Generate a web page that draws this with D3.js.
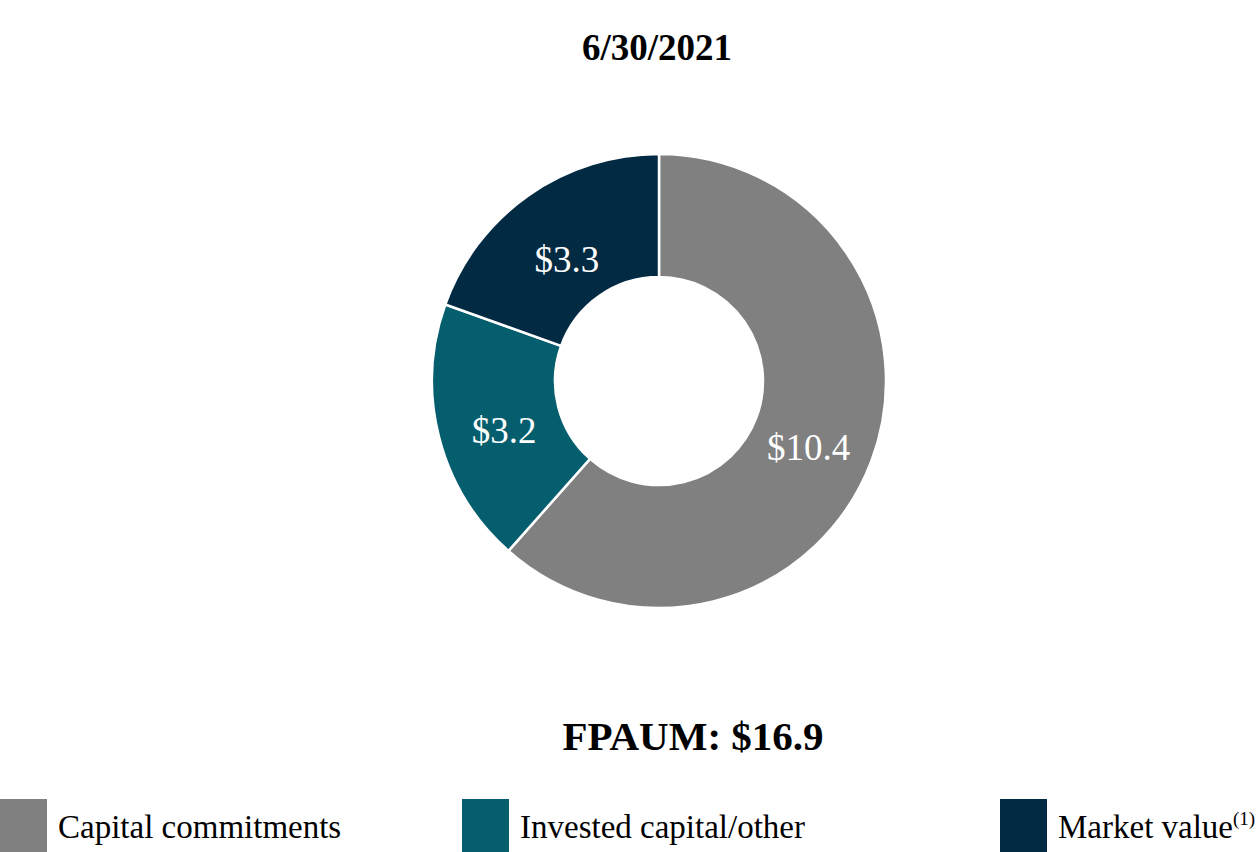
<!DOCTYPE html>
<html><head><meta charset="utf-8">
<script src="https://cdn.jsdelivr.net/npm/d3@7"></script>
<style>body{margin:0;background:#fff;}svg{display:block;}</style>
</head><body>
<script>
const categories = ["Capital commitments", "Invested capital/other", "Market value"];
const values = [10.4, 3.2, 3.3];
const labels = ["$10.4", "$3.2", "$3.3"];
const colors = ["#808080", "#055E6E", "#022A43"];
const title = "6/30/2021";
const totalLabel = "FPAUM: $16.9";

const W = 1259, H = 852;
const svg = d3.select("body").append("svg").attr("width", W).attr("height", H);
const font = "'Liberation Serif','Times New Roman',serif";

svg.append("text").attr("x", 657).attr("y", 60).attr("text-anchor", "middle")
  .attr("font-family", font).attr("font-weight", "bold").attr("font-size", 37).text(title);

const cx = 659, cy = 381, rOuter = 227, rInner = 104;
const pie = d3.pie().sort(null).value(d => d)(values);
const arc = d3.arc().innerRadius(rInner).outerRadius(rOuter);
const labelArc = d3.arc().innerRadius(160).outerRadius(160);
const g = svg.append("g").attr("transform", `translate(${cx},${cy})`);
g.selectAll("path").data(pie).join("path")
  .attr("d", arc).attr("fill", (d, i) => colors[i])
  .attr("stroke", "#fff").attr("stroke-width", 2.5).attr("stroke-linejoin", "miter");
g.selectAll("text").data(pie).join("text")
  .attr("x", d => labelArc.centroid(d)[0])
  .attr("y", d => labelArc.centroid(d)[1] + 22)
  .attr("text-anchor", "middle").attr("fill", "#fff")
  .attr("font-family", font).attr("font-size", 37)
  .text((d, i) => labels[i]);

svg.append("text").attr("x", 693).attr("y", 750).attr("text-anchor", "middle")
  .attr("font-family", font).attr("font-weight", "bold").attr("font-size", 41).text(totalLabel);

const legX = [0, 462, 1000];
const leg = svg.selectAll("g.leg").data(categories).join("g").attr("class", "leg")
  .attr("transform", (d, i) => `translate(${legX[i]},799)`);
leg.append("rect").attr("width", 47).attr("height", 60).attr("fill", (d, i) => colors[i]);
const lt = leg.append("text").attr("x", 58).attr("y", 39)
  .attr("font-family", font).attr("font-size", 33);
lt.append("tspan").text(d => d);
lt.filter((d, i) => i === 2).append("tspan").attr("dy", -13).attr("font-size", 19).text("(1)");
</script>
</body></html>
